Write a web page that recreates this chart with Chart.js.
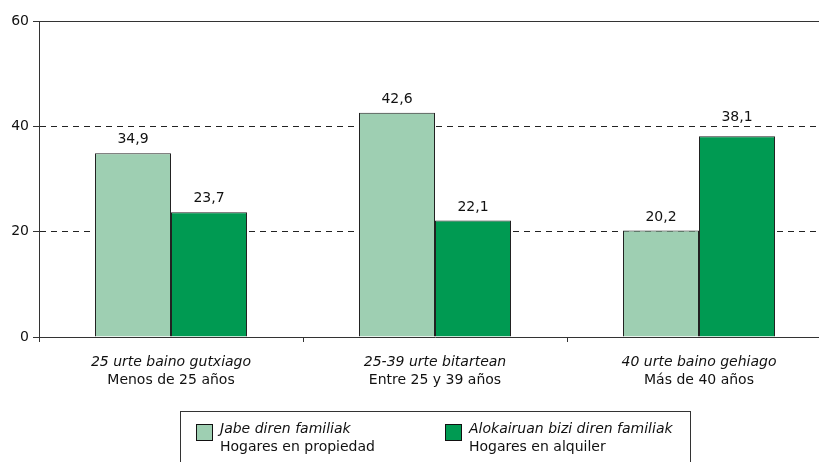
<!DOCTYPE html>
<html><head><meta charset="utf-8">
<script src="https://cdn.jsdelivr.net/npm/chart.js@4"></script>
<style>html,body{margin:0;padding:0;overflow:hidden;background:#fff}canvas{display:block}</style>
</head><body>
<canvas id="c" width="832" height="462"></canvas>
<script>
const categoriesEu = ['25 urte baino gutxiago', '25-39 urte bitartean', '40 urte baino gehiago'];
const categoriesEs = ['Menos de 25 años', 'Entre 25 y 39 años', 'Más de 40 años'];
const seriesNamesEu = ['Jabe diren familiak', 'Alokairuan bizi diren familiak'];
const seriesNamesEs = ['Hogares en propiedad', 'Hogares en alquiler'];
const ownedValues = [34.9, 42.6, 20.2];
const rentedValues = [23.7, 22.1, 38.1];
const yTicks = [0, 20, 40, 60];

const FONT = '"DejaVu Sans", sans-serif';
const TXT = '#111';
const LINE = '#333';

const topBorder = {
  id: 'topBorder',
  beforeDatasetsDraw(chart) {
    const {ctx, chartArea: a} = chart;
    ctx.save();
    ctx.strokeStyle = LINE; ctx.lineWidth = 1;
    ctx.beginPath();
    ctx.moveTo(a.left, Math.round(a.top) + 0.5);
    ctx.lineTo(a.right, Math.round(a.top) + 0.5);
    ctx.stroke();
    ctx.restore();
  }
};

const valueLabels = {
  id: 'valueLabels',
  afterDatasetsDraw(chart) {
    const ctx = chart.ctx;
    const ys = chart.scales.y;
    const gridYs = yTicks.filter(v => v > 0 && v < 60).map(v => ys.getPixelForValue(v));
    ctx.save();
    ctx.font = '14px ' + FONT;
    ctx.fillStyle = TXT;
    ctx.textAlign = 'center';
    ctx.textBaseline = 'alphabetic';
    chart.data.datasets.forEach((ds, di) => {
      chart.getDatasetMeta(di).data.forEach((bar, i) => {
        const t = ds.data[i].toFixed(1).replace('.', ',');
        let baseY = bar.y - 10;
        gridYs.forEach(g => {
          if (baseY + 2 > g && baseY - 12 < g) baseY = g - 5;
        });
        ctx.fillText(t, bar.x, baseY);
      });
    });
    ctx.restore();
  }
};

const xLabels = {
  id: 'xLabels',
  afterDraw(chart) {
    const ctx = chart.ctx;
    const xs = chart.scales.x;
    const base = chart.chartArea.bottom;
    ctx.save();
    ctx.fillStyle = TXT;
    ctx.textAlign = 'center';
    ctx.textBaseline = 'middle';
    categoriesEu.forEach((c, i) => {
      const x = xs.getPixelForValue(i);
      ctx.font = 'italic 14px ' + FONT;
      ctx.fillText(c, x, base + 25);
      ctx.font = '14px ' + FONT;
      ctx.fillText(categoriesEs[i], x, base + 43);
    });
    ctx.restore();
  }
};

const legendBox = {
  id: 'legendBox',
  afterDraw(chart) {
    const ctx = chart.ctx;
    ctx.save();
    ctx.strokeStyle = LINE; ctx.lineWidth = 1;
    ctx.strokeRect(180.5, 411.5, 510, 80);
    const xs = [196, 445];
    chart.data.datasets.forEach((ds, i) => {
      const x = xs[i];
      ctx.fillStyle = ds.backgroundColor;
      ctx.fillRect(x, 424, 16, 16);
      ctx.strokeStyle = '#111';
      ctx.strokeRect(x + 0.5, 424.5, 16, 16);
      ctx.fillStyle = TXT;
      ctx.textAlign = 'left';
      ctx.textBaseline = 'middle';
      ctx.font = 'italic 14px ' + FONT;
      ctx.fillText(seriesNamesEu[i], x + 24, 429);
      ctx.font = '14px ' + FONT;
      ctx.fillText(seriesNamesEs[i], x + 24, 447);
    });
    ctx.restore();
  }
};

new Chart(document.getElementById('c'), {
  type: 'bar',
  data: {
    labels: categoriesEs,
    datasets: [
      {label: seriesNamesEs[0], data: ownedValues, backgroundColor: '#9ecfb2', borderColor: '#222', borderWidth: 1},
      {label: seriesNamesEs[1], data: rentedValues, backgroundColor: '#009a52', borderColor: '#222', borderWidth: 1}
    ]
  },
  options: {
    responsive: false,
    animation: false,
    devicePixelRatio: 1,
    layout: {padding: {top: 21, right: 1, left: 0, bottom: 0}},
    plugins: {legend: {display: false}, tooltip: {enabled: false}},
    datasets: {bar: {categoryPercentage: 152 / 264, barPercentage: 1.0}},
    scales: {
      x: {
        offset: true,
        grid: {offset: true, drawOnChartArea: false, tickLength: 5, color: LINE, tickColor: LINE},
        border: {color: LINE, width: 1},
        ticks: {display: false},
        afterFit(s) { s.height = 125; }
      },
      y: {
        min: 0, max: 60,
        afterBuildTicks(s) { s.ticks = yTicks.map(v => ({value: v})); },
        grid: {
          tickLength: 6,
          color: c => (c.tick && (c.tick.value === 20 || c.tick.value === 40)) ? '#222' : 'rgba(0,0,0,0)',
          tickColor: LINE,
          lineWidth: 1
        },
        border: {color: LINE, width: 1, dash: [6, 5]},
        ticks: {font: {family: FONT, size: 14}, color: TXT, padding: 4},
        afterFit(s) { s.width = 39; }
      }
    }
  },
  plugins: [topBorder, valueLabels, xLabels, legendBox]
});
</script>
</body></html>
